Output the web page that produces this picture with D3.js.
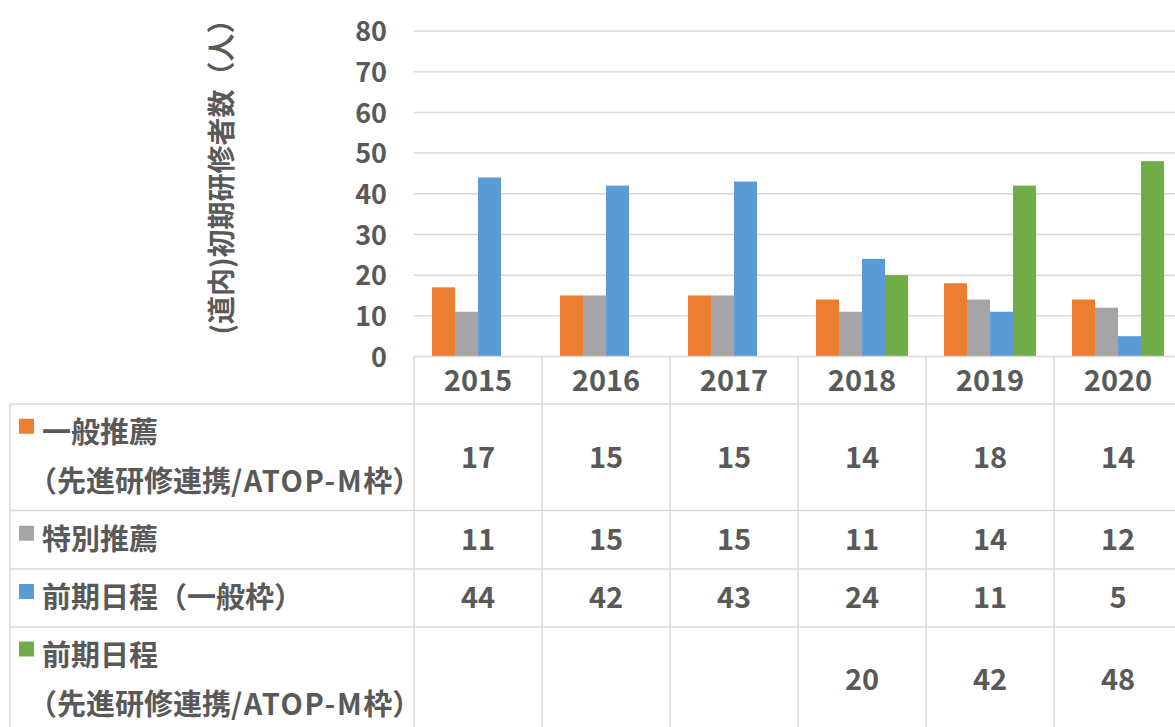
<!DOCTYPE html>
<html>
<head>
<meta charset="utf-8">
<script src="https://cdn.jsdelivr.net/npm/d3@7"></script>
<style>
  html, body { margin: 0; padding: 0; background: #fff; overflow: hidden; }
  svg { display: block; }
  text { font-family: "Noto Sans CJK JP", "Noto Sans", sans-serif; font-weight: bold; fill: #595959; }
</style>
</head>
<body>
<svg id="chart" width="1175" height="727"></svg>
<script>
// Fiscal years shown along the category axis
const years = ["2015", "2016", "2017", "2018", "2019", "2020"];

// Series values (number of first-year residents)
const ippanSuisen   = [17, 15, 15, 14, 18, 14];
const tokubetsu     = [11, 15, 15, 11, 14, 12];
const zenkiIppan    = [44, 42, 43, 24, 11, 5];
const zenkiSenshin  = [null, null, null, 20, 42, 48];

// Legend / row labels (each entry is a list of lines)
const seriesNames = [
  ["一般推薦", "（先進研修連携/ATOP-M枠）"],
  ["特別推薦"],
  ["前期日程（一般枠）"],
  ["前期日程", "（先進研修連携/ATOP-M枠）"]
];
const seriesColors = ["#ED7D31", "#A5A5A5", "#5B9BD5", "#70AD47"];

const yTicks = [0, 10, 20, 30, 40, 50, 60, 70, 80];
const yTitle = "(道内)初期研修者数（人）";

const seriesValues = [ippanSuisen, tokubetsu, zenkiIppan, zenkiSenshin];
const series = seriesValues.map((vals, i) => ({
  key: "s" + i,
  name: seriesNames[i],
  color: seriesColors[i],
  values: vals
}));

const svg = d3.select("#chart");
const gridColor = "#D9D9D9";

// Plot area
const plot = { left: 414, right: 1182, top: 31, bottom: 356.5 };

const x0 = d3.scaleBand().domain(years).range([plot.left, plot.right]).padding(0);
const x1 = d3.scaleBand().domain(series.map(s => s.key))
  .range([0, x0.bandwidth()]).paddingInner(0).paddingOuter(0.78);
const y = d3.scaleLinear().domain([0, 80]).range([plot.bottom, plot.top]);

// Horizontal gridlines
svg.append("g")
  .selectAll("line")
  .data(yTicks.filter(d => d > 0))
  .join("line")
  .attr("x1", plot.left).attr("x2", plot.right)
  .attr("y1", d => y(d)).attr("y2", d => y(d))
  .attr("stroke", gridColor).attr("stroke-width", 1.5);

// Y axis labels
const yAxis = d3.axisLeft(y).tickValues(yTicks).tickSize(0).tickPadding(0);
const yg = svg.append("g")
  .attr("transform", `translate(387,0)`)
  .call(yAxis);
yg.select(".domain").remove();
yg.selectAll("text")
  .attr("font-size", 27)
  .attr("font-family", "'Noto Sans CJK JP', sans-serif")
  .attr("font-weight", "bold")
  .attr("fill", "#595959")
  .attr("dy", "0.36em");

// Y axis title
svg.append("text")
  .attr("transform", `translate(222,170) rotate(-90)`)
  .attr("text-anchor", "middle")
  .attr("dy", "0.36em")
  .attr("font-size", 28)
  .text(yTitle);

// Bars
const groups = svg.append("g")
  .selectAll("g")
  .data(years)
  .join("g")
  .attr("transform", d => `translate(${x0(d)},0)`);

groups.selectAll("rect")
  .data((yr, i) => series.map(s => ({ key: s.key, color: s.color, v: s.values[i] })).filter(d => d.v != null))
  .join("rect")
  .attr("x", d => x1(d.key))
  .attr("width", x1.bandwidth())
  .attr("y", d => y(d.v))
  .attr("height", d => y(0) - y(d.v))
  .attr("fill", d => d.color);

// Data table
const tableLeft = 10;
const headerBottom = 404;
const rowBounds = [404, 510.5, 569, 627, 733];

const tg = svg.append("g");

// horizontal rules
tg.append("line")
  .attr("x1", plot.left).attr("x2", plot.right)
  .attr("y1", plot.bottom).attr("y2", plot.bottom)
  .attr("stroke", gridColor).attr("stroke-width", 1.5);
tg.selectAll("line.h")
  .data(rowBounds)
  .join("line").attr("class", "h")
  .attr("x1", tableLeft).attr("x2", plot.right)
  .attr("y1", d => d).attr("y2", d => d)
  .attr("stroke", gridColor).attr("stroke-width", 1.5);

// vertical rules
tg.append("line")
  .attr("x1", tableLeft).attr("x2", tableLeft)
  .attr("y1", headerBottom).attr("y2", 733)
  .attr("stroke", gridColor).attr("stroke-width", 1.5);
tg.selectAll("line.v")
  .data(years)
  .join("line").attr("class", "v")
  .attr("x1", d => x0(d)).attr("x2", d => x0(d))
  .attr("y1", plot.bottom).attr("y2", 733)
  .attr("stroke", gridColor).attr("stroke-width", 1.5);

// Category labels in the header row
tg.selectAll("text.year")
  .data(years)
  .join("text").attr("class", "year")
  .attr("x", d => x0(d) + x0.bandwidth() / 2)
  .attr("y", (plot.bottom + headerBottom) / 2)
  .attr("dy", "0.36em")
  .attr("text-anchor", "middle")
  .attr("font-size", 29)
  .text(d => d);

// Rows: legend key, label and values
series.forEach((s, r) => {
  const top = rowBounds[r], bottom = rowBounds[r + 1];
  const mid = (top + bottom) / 2;
  const lineH = 49;
  const firstY = s.name.length > 1 ? mid - lineH / 2 : mid;

  tg.append("rect")
    .attr("x", 19).attr("y", firstY - 14)
    .attr("width", 15).attr("height", 15)
    .attr("fill", s.color);

  s.name.forEach((line, li) => {
    const t = tg.append("text")
      .attr("x", li === 0 ? 42 : 28)
      .attr("y", firstY + li * lineH)
      .attr("dy", "0.36em")
      .attr("font-size", 29);
    // Latin runs are set slightly wider than the CJK text around them
    line.split(/([A-Za-z\/\-]+)/).filter(p => p.length).forEach(part => {
      const sp = t.append("tspan").text(part);
      if (/^[A-Za-z\/\-]+$/.test(part)) sp.attr("letter-spacing", 1.6);
    });
  });

  tg.selectAll(null)
    .data(years.map((yr, i) => ({ yr, v: s.values[i] })).filter(d => d.v != null))
    .join("text")
    .attr("x", d => x0(d.yr) + x0.bandwidth() / 2)
    .attr("y", mid)
    .attr("dy", "0.36em")
    .attr("text-anchor", "middle")
    .attr("font-size", 29)
    .text(d => d.v);
});
</script>
</body>
</html>
